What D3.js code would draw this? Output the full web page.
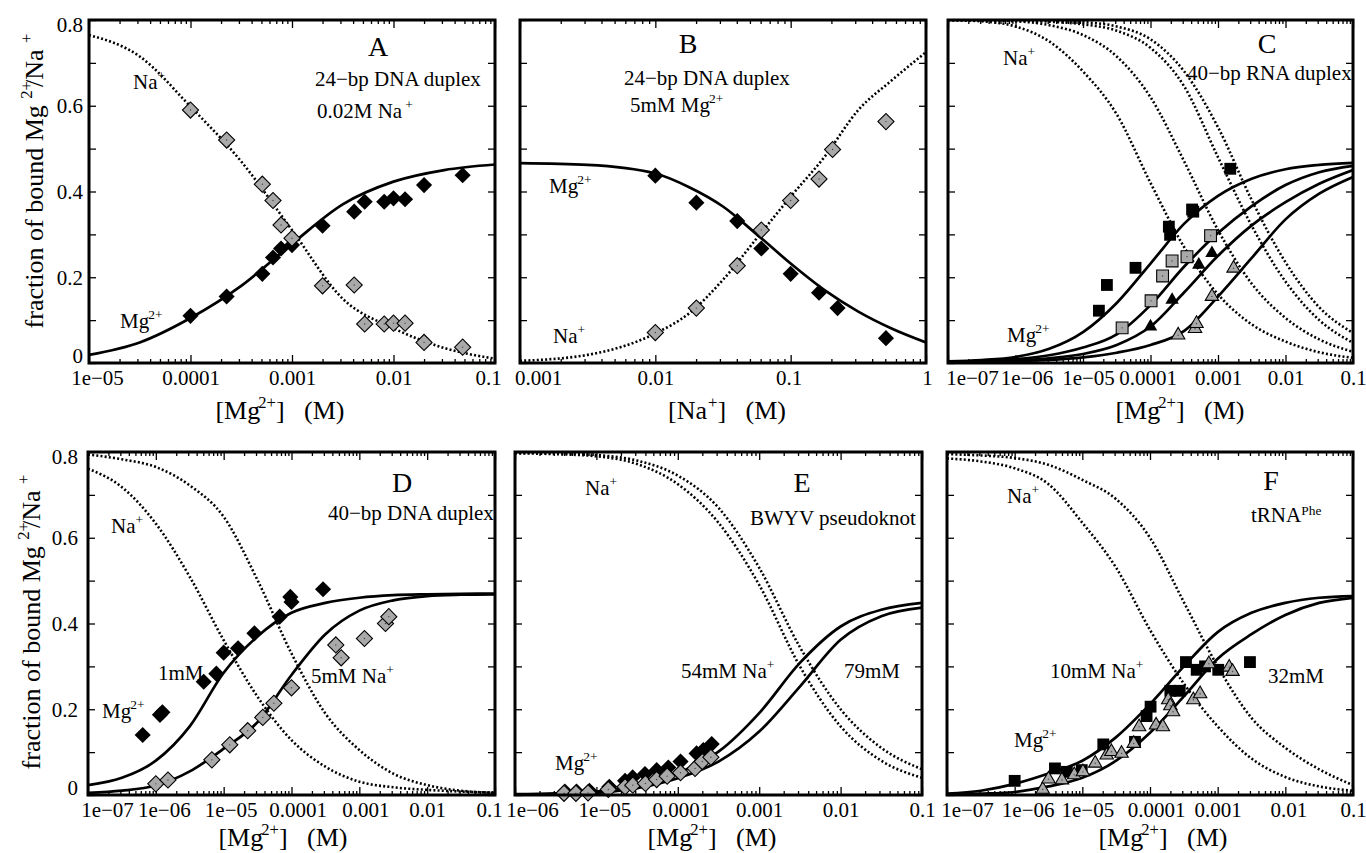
<!DOCTYPE html>
<html>
<head>
<meta charset="utf-8">
<script src="https://cdn.jsdelivr.net/npm/d3@7"></script>
<style>
  body { margin: 0; background: #fff; }
  svg { display: block; font-family: 'Liberation Serif', 'Times New Roman', serif; }
  .tick line { stroke: #000; stroke-width: 1.3; }
  .tick text { fill: #000; }
</style>
</head>
<body>
<script>
// ---- tick labels ----
const xLabelsA = ['1e\u221205', '0.0001', '0.001', '0.01', '0.1'];
const xLabelsB = ['0.001', '0.01', '0.1', '1'];
const xLabels7 = ['1e\u221207', '1e\u221206', '1e\u221205', '0.0001', '0.001', '0.01', '0.1'];
const xLabelsE = ['1e\u221206', '1e\u221205', '0.0001', '0.001', '0.01', '0.1'];
const yTickValues = [0, 0.1, 0.2, 0.3, 0.4, 0.5, 0.6, 0.7, 0.8];
const yTickLabels = ['0', '', '0.2', '', '0.4', '', '0.6', '', '0.8'];

// ---- model curves ----
const gridA = [1e-5, 3.16e-5, 1e-4, 3.16e-4, 1e-3, 3.16e-3, 1e-2, 3.16e-2, 0.1];
const aMgFit = [0.019, 0.048, 0.105, 0.18, 0.278, 0.37, 0.423, 0.45, 0.463];
const aNaFit = [0.765, 0.715, 0.598, 0.47, 0.31, 0.15, 0.081, 0.035, 0.01];

const gridB = [1e-3, 3.16e-3, 1e-2, 1.78e-2, 3.16e-2, 5.62e-2, 0.1, 0.178, 0.316, 0.562, 1];
const bMgFit = [0.466, 0.462, 0.442, 0.41, 0.365, 0.30, 0.232, 0.17, 0.12, 0.08, 0.048];
const bNaFit = [0.005, 0.019, 0.069, 0.116, 0.194, 0.291, 0.388, 0.481, 0.59, 0.66, 0.725];

const grid7 = [1e-7, 3.16e-7, 1e-6, 3.16e-6, 1e-5, 3.16e-5, 1e-4, 3.16e-4, 1e-3, 3.16e-3, 1e-2, 3.16e-2, 0.1];
const cMgFit1 = [0.004, 0.007, 0.014, 0.033, 0.072, 0.14, 0.232, 0.325, 0.39, 0.43, 0.452, 0.462, 0.467];
const cMgFit2 = [0.003, 0.005, 0.009, 0.018, 0.036, 0.067, 0.135, 0.225, 0.303, 0.366, 0.415, 0.445, 0.46];
const cMgFit3 = [0.002, 0.003, 0.006, 0.011, 0.021, 0.042, 0.085, 0.165, 0.25, 0.321, 0.375, 0.418, 0.45];
const cMgFit4 = [0.001, 0.002, 0.004, 0.007, 0.013, 0.024, 0.042, 0.075, 0.155, 0.245, 0.335, 0.395, 0.434];
const cNaFit1 = [0.80, 0.797, 0.785, 0.75, 0.68, 0.58, 0.42, 0.27, 0.16, 0.09, 0.05, 0.025, 0.012];
const cNaFit2 = [0.80, 0.799, 0.797, 0.788, 0.765, 0.715, 0.62, 0.47, 0.31, 0.185, 0.105, 0.055, 0.026];
const cNaFit3 = [0.80, 0.80, 0.799, 0.796, 0.79, 0.775, 0.735, 0.645, 0.48, 0.32, 0.19, 0.10, 0.047];
const cNaFit4 = [0.80, 0.80, 0.80, 0.798, 0.795, 0.785, 0.755, 0.68, 0.55, 0.38, 0.235, 0.13, 0.07];

const dMgFit1 = [0.023, 0.04, 0.08, 0.16, 0.285, 0.37, 0.425, 0.448, 0.46, 0.466, 0.468, 0.469, 0.47];
const dMgFit2 = [0.005, 0.01, 0.022, 0.055, 0.108, 0.17, 0.28, 0.375, 0.43, 0.454, 0.464, 0.467, 0.468];
const dNaFit1 = [0.761, 0.718, 0.633, 0.509, 0.361, 0.229, 0.128, 0.066, 0.031, 0.018, 0.012, 0.008, 0.005];
const dNaFit2 = [0.794, 0.783, 0.765, 0.722, 0.649, 0.501, 0.33, 0.19, 0.105, 0.05, 0.023, 0.01, 0.005];

const gridE = [1e-6, 3.16e-6, 1e-5, 3.16e-5, 1e-4, 3.16e-4, 1e-3, 3.16e-3, 1e-2, 3.16e-2, 0.1];
const eMgFit1 = [0.002, 0.004, 0.008, 0.023, 0.051, 0.101, 0.191, 0.308, 0.393, 0.432, 0.448];
const eMgFit2 = [0.001, 0.002, 0.005, 0.016, 0.039, 0.078, 0.148, 0.253, 0.362, 0.417, 0.437];
const eNaFit1 = [0.797, 0.795, 0.79, 0.772, 0.725, 0.635, 0.49, 0.30, 0.16, 0.08, 0.04];
const eNaFit2 = [0.798, 0.797, 0.793, 0.78, 0.745, 0.67, 0.53, 0.345, 0.20, 0.11, 0.06];

const fMgFit1 = [0.003, 0.01, 0.026, 0.05, 0.08, 0.135, 0.212, 0.30, 0.38, 0.425, 0.448, 0.46, 0.464];
const fMgFit2 = [0.001, 0.003, 0.007, 0.02, 0.04, 0.08, 0.145, 0.23, 0.318, 0.375, 0.42, 0.448, 0.46];
const fNaFit1 = [0.785, 0.778, 0.762, 0.725, 0.635, 0.53, 0.385, 0.26, 0.16, 0.085, 0.042, 0.02, 0.01];
const fNaFit2 = [0.795, 0.792, 0.786, 0.77, 0.735, 0.69, 0.60, 0.45, 0.30, 0.18, 0.11, 0.06, 0.023];

// ---- measured points ----
const aConc = [1e-4, 2.27e-4, 5.1e-4, 6.5e-4, 7.8e-4, 1e-3, 2e-3, 4.1e-3, 5.2e-3, 8.1e-3, 1e-2, 1.3e-2, 2e-2, 4.8e-2];
const aMgObs = [0.11, 0.155, 0.208, 0.246, 0.267, 0.275, 0.32, 0.353, 0.376, 0.376, 0.384, 0.382, 0.415, 0.438];
const aNaObs = [0.59, 0.52, 0.417, 0.379, 0.322, 0.291, 0.18, 0.182, 0.091, 0.091, 0.093, 0.093, 0.048, 0.037];

const bMgConc = [0.01, 0.0201, 0.0403, 0.0607, 0.1, 0.162, 0.222, 0.506];
const bMgObs = [0.437, 0.374, 0.331, 0.267, 0.208, 0.164, 0.128, 0.058];
const bNaConc = [0.01, 0.0201, 0.0403, 0.0607, 0.1, 0.162, 0.204, 0.506];
const bNaObs = [0.071, 0.128, 0.227, 0.31, 0.379, 0.429, 0.498, 0.563];

const cSqBlackX = [1.72e-5, 2.26e-5, 6.0e-5, 1.87e-4, 1.95e-4, 4.13e-4, 4.3e-4, 1.52e-3];
const cSqBlackY = [0.122, 0.182, 0.222, 0.318, 0.299, 0.358, 0.353, 0.453];
const cSqGrayX = [3.8e-5, 1.02e-4, 1.51e-4, 2.09e-4, 3.47e-4, 7.76e-4];
const cSqGrayY = [0.082, 0.145, 0.203, 0.238, 0.248, 0.297];
const cTriBlackX = [1.0e-4, 2.09e-4, 5.19e-4, 8.13e-4];
const cTriBlackY = [0.085, 0.147, 0.229, 0.256];
const cTriGrayX = [2.57e-4, 4.57e-4, 4.8e-4, 8.13e-4, 1.7e-3];
const cTriGrayY = [0.065, 0.08, 0.092, 0.155, 0.221];

const d1mMX = [6.4e-7, 1.15e-6, 1.25e-6, 5.08e-6, 7.8e-6, 1e-5, 1.63e-5, 2.84e-5, 6.7e-5, 9.6e-5, 1e-4, 2.92e-4];
const d1mMY = [0.14, 0.187, 0.193, 0.264, 0.283, 0.332, 0.342, 0.377, 0.416, 0.462, 0.45, 0.48];
const d5mMX = [1e-6, 1.51e-6, 6.7e-6, 1.23e-5, 2.26e-5, 3.77e-5, 5.5e-5, 1e-4, 4.5e-4, 5.4e-4, 1.19e-3, 2.43e-3, 2.72e-3];
const d5mMY = [0.026, 0.035, 0.082, 0.117, 0.15, 0.181, 0.214, 0.25, 0.35, 0.32, 0.365, 0.40, 0.416];

const e54X = [4.1e-6, 5.7e-6, 8.2e-6, 1.44e-5, 2.25e-5, 2.79e-5, 3.95e-5, 5.5e-5, 7.65e-5, 1.08e-4, 1.7e-4, 2.06e-4, 2.61e-4];
const e54Y = [0.008, 0.008, 0.01, 0.019, 0.033, 0.041, 0.049, 0.058, 0.064, 0.078, 0.097, 0.105, 0.119];
const e79X = [4.0e-6, 5.6e-6, 7.9e-6, 1.4e-5, 2.25e-5, 2.8e-5, 4.0e-5, 5.5e-5, 7.4e-5, 1.08e-4, 1.63e-4, 2.0e-4, 2.55e-4];
const e79Y = [0.004, 0.004, 0.005, 0.013, 0.019, 0.023, 0.027, 0.036, 0.044, 0.052, 0.062, 0.078, 0.088];

const f10X = [1e-6, 3.94e-6, 5.9e-6, 9.8e-6, 2.04e-5, 6.0e-5, 8.9e-5, 1.02e-4, 2.0e-4, 2.75e-4, 3.4e-4, 4.9e-4, 6.5e-4, 1.02e-3, 3.0e-3];
const f10Y = [0.033, 0.062, 0.054, 0.058, 0.118, 0.124, 0.184, 0.206, 0.243, 0.243, 0.31, 0.292, 0.30, 0.292, 0.31];
const f32X = [2.6e-6, 3.16e-6, 5.0e-6, 7.6e-6, 1.02e-5, 1.55e-5, 2.29e-5, 2.69e-5, 3.8e-5, 5.75e-5, 6.9e-5, 1.23e-4, 1.55e-4, 1.86e-4, 2.0e-4, 2.19e-4, 4.37e-4, 5.5e-4, 7.4e-4, 1.48e-3, 1.66e-3];
const f32Y = [0.013, 0.037, 0.035, 0.047, 0.054, 0.074, 0.093, 0.101, 0.097, 0.12, 0.159, 0.163, 0.159, 0.222, 0.208, 0.194, 0.222, 0.236, 0.306, 0.298, 0.288];

const GRAY = '#a9a9a9';

const svg = d3.select('body').append('svg')
  .attr('width', 1366)
  .attr('height', 853);

// text with superscripts: parts = [[string, 'sup'?, dx?, raise?], ...]
function rich(parent, x, y, parts, size, anchor) {
  const t = parent.append('text')
    .attr('x', x).attr('y', y)
    .attr('font-size', size)
    .attr('text-anchor', anchor || 'start')
    .style('white-space', 'pre');
  let cur = 0;
  parts.forEach(p => {
    const sup = p[1] === 'sup';
    const target = sup ? -(p[3] || 0.42 * size) : 0;
    const ts = t.append('tspan').text(p[0]).attr('dy', target - cur);
    if (p[2]) ts.attr('dx', p[2]);
    if (sup) ts.attr('font-size', size * 0.64);
    cur = target;
  });
  return t;
}

const mg2 = [['Mg'], ['2+', 'sup', -1]];
const naP = [['Na'], ['+', 'sup']];
const mgTitle = [['[Mg'], ['2+', 'sup', -2], [']   (M)']];

const panels = [
  {
    left: 89, right: 495, top: 20, bottom: 363, domain: [1e-5, 0.1], labels: xLabelsA,
    labelDx: [8, 0, 0, 0, -7], yLabels: true, yPad: 6,
    curves: [[gridA, aMgFit, false], [gridA, aNaFit, true]],
    sets: [[aConc, aMgObs, 'diamond', '#000'], [aConc, aNaObs, 'diamond', GRAY]],
    letter: ['A', 378, 56],
    notes: [[[['24\u2212bp DNA duplex']], 315, 86], [[['0.02M Na'], ['+', 'sup', 3]], 317, 118],
            [naP, 133, 89], [mg2, 120, 328]],
    title: [mgTitle, 280, 419]
  },
  {
    left: 520, right: 926, top: 20, bottom: 363, domain: [1e-3, 1], labels: xLabelsB,
    labelDx: [18, 0, -2, 1], yLabels: false,
    curves: [[gridB, bMgFit, false], [gridB, bNaFit, true]],
    sets: [[bMgConc, bMgObs, 'diamond', '#000'], [bNaConc, bNaObs, 'diamond', GRAY]],
    letter: ['B', 688, 53],
    notes: [[[['24\u2212bp DNA duplex']], 624, 85], [[['5mM '], ['Mg'], ['2+', 'sup', -1]], 630, 112],
            [mg2, 549, 193], [naP, 553, 343]],
    title: [[['[Na'], ['+', 'sup', 1], [']   (M)']], 727, 419]
  },
  {
    left: 948, right: 1353, top: 20, bottom: 363, domain: [1e-7, 0.1], labels: xLabels7,
    labelDx: [24, 11, 5, -3, 0, 0, 0], yLabels: false,
    curves: [[grid7, cMgFit1, false], [grid7, cMgFit2, false], [grid7, cMgFit3, false], [grid7, cMgFit4, false],
             [grid7, cNaFit1, true], [grid7, cNaFit2, true], [grid7, cNaFit3, true], [grid7, cNaFit4, true]],
    sets: [[cSqBlackX, cSqBlackY, 'square', '#000'], [cSqGrayX, cSqGrayY, 'square', GRAY],
           [cTriBlackX, cTriBlackY, 'triangle', '#000'], [cTriGrayX, cTriGrayY, 'triangle', GRAY]],
    letter: ['C', 1267, 53],
    notes: [[[['40\u2212bp RNA duplex']], 1187, 80], [naP, 1003, 65], [mg2, 1007, 342]],
    title: [mgTitle, 1180, 419]
  },
  {
    left: 88, right: 495, top: 452, bottom: 795, domain: [1e-7, 0.1], labels: xLabels7,
    labelDx: [19, 8, 7, 6, 6, 0, -6], yLabels: true, yPad: 10,
    curves: [[grid7, dMgFit1, false], [grid7, dMgFit2, false], [grid7, dNaFit1, true], [grid7, dNaFit2, true]],
    sets: [[d1mMX, d1mMY, 'diamond', '#000'], [d5mMX, d5mMY, 'diamond', GRAY]],
    letter: ['D', 402, 492],
    notes: [[[['40\u2212bp DNA duplex']], 328, 520], [naP, 111, 533], [[['1mM']], 158, 680],
            [[['5mM Na'], ['+', 'sup']], 311, 683], [mg2, 102, 718]],
    title: [mgTitle, 283, 846]
  },
  {
    left: 515, right: 922, top: 452, bottom: 795, domain: [1e-6, 0.1], labels: xLabelsE,
    labelDx: [17, 8, 3, 0, 0, 0], yLabels: false,
    curves: [[gridE, eMgFit1, false], [gridE, eMgFit2, false], [gridE, eNaFit1, true], [gridE, eNaFit2, true]],
    sets: [[e54X, e54Y, 'diamond', '#000'], [e79X, e79Y, 'diamond', GRAY]],
    letter: ['E', 802, 492],
    notes: [[[['BWYV pseudoknot']], 750, 525], [naP, 585, 495], [[['54mM Na'], ['+', 'sup']], 681, 678],
            [[['79mM']], 844, 678], [mg2, 555, 770]],
    title: [mgTitle, 712, 846]
  },
  {
    left: 947, right: 1353, top: 452, bottom: 795, domain: [1e-7, 0.1], labels: xLabels7,
    labelDx: [20, 13, 5, 6, 0, 3, 0], yLabels: false,
    curves: [[grid7, fMgFit1, false], [grid7, fMgFit2, false], [grid7, fNaFit1, true], [grid7, fNaFit2, true]],
    sets: [[f10X, f10Y, 'square', '#000'], [f32X, f32Y, 'triangle', GRAY]],
    letter: ['F', 1271, 490],
    notes: [[[['tRNA'], ['Phe', 'sup', 0, 7]], 1251, 522], [naP, 1007, 503], [[['10mM Na'], ['+', 'sup']], 1050, 678],
            [[['32mM']], 1268, 683], [mg2, 1014, 747]],
    title: [mgTitle, 1163, 846]
  }
];

const symbols = {
  diamond: d3.symbol().type(d3.symbolSquare).size(130),
  square: d3.symbol().type(d3.symbolSquare).size(140),
  triangle: d3.symbol().type(d3.symbolTriangle).size(78)
};

panels.forEach((p, pi) => {
  const w = p.right - p.left;
  const h = p.bottom - p.top;
  const g = svg.append('g').attr('transform', `translate(${p.left},${p.top})`);

  const x = d3.scaleLog().domain(p.domain).range([0, w]);
  const y = d3.scaleLinear().domain([0, 0.8]).range([h, 0]);

  const lo = Math.round(Math.log10(p.domain[0]));
  const hi = Math.round(Math.log10(p.domain[1]));
  const major = d3.range(lo, hi + 1).map(e => Math.pow(10, e));
  const minor = [];
  d3.range(lo, hi).forEach(e => { for (let k = 2; k <= 9; k++) minor.push(k * Math.pow(10, e)); });

  // ticks, all pointing inward
  const bottom = g.append('g').attr('transform', `translate(0,${h})`)
    .call(d3.axisBottom(x).tickValues(major).tickSize(-8).tickPadding(7).tickFormat((d, i) => p.labels[i]));
  g.append('g').attr('transform', `translate(0,${h})`)
    .call(d3.axisBottom(x).tickValues(minor).tickSize(-4).tickFormat(''));
  g.append('g').call(d3.axisTop(x).tickValues(major).tickSize(-8).tickFormat(''));
  g.append('g').call(d3.axisTop(x).tickValues(minor).tickSize(-4).tickFormat(''));
  const leftAx = g.append('g')
    .call(d3.axisLeft(y).tickValues(yTickValues).tickSize(-7).tickPadding(p.yPad || 6)
      .tickFormat((d, i) => p.yLabels ? yTickLabels[i] : ''));
  g.append('g').attr('transform', `translate(${w},0)`)
    .call(d3.axisRight(y).tickValues(yTickValues).tickSize(-7).tickFormat(''));

  g.selectAll('.domain').remove();
  g.selectAll('.tick text').attr('font-size', 21);
  g.selectAll('g').attr('font-family', null).attr('font-size', null);

  bottom.selectAll('.tick text').attr('x', (d, i) => p.labelDx[i]);

  leftAx.selectAll('.tick text')
    .attr('x', -(p.yPad || 6))
    .attr('dy', d => d === 0.8 ? '0.55em' : d === 0 ? '-0.02em' : '0.34em');

  // curves
  svg.append('clipPath').attr('id', 'clip' + pi)
    .append('rect').attr('width', w).attr('height', h);
  const line = d3.line()
    .x(d => x(d[0]))
    .y(d => y(d[1]))
    .curve(d3.curveMonotoneX);
  const cg = g.append('g').attr('clip-path', `url(#clip${pi})`);
  p.curves.forEach(([xs, ys, dotted]) => {
    cg.append('path')
      .attr('d', line(xs.map((v, i) => [v, ys[i]])))
      .attr('fill', 'none')
      .attr('stroke', '#000')
      .attr('stroke-width', dotted ? 2.6 : 2.7)
      .attr('stroke-dasharray', dotted ? '2,2.2' : null);
  });

  // points
  p.sets.forEach(([xs, ys, shape, fill]) => {
    const pts = g.append('g').selectAll('g')
      .data(xs.map((v, i) => [v, ys[i]]))
      .enter().append('g')
      .attr('transform', d => `translate(${x(d[0])},${y(d[1])})`);
    pts.append('path')
      .attr('d', symbols[shape]())
      .attr('transform', shape === 'diamond' ? 'rotate(45)' : null)
      .attr('fill', fill)
      .attr('stroke', fill === '#000' ? 'none' : '#000')
      .attr('stroke-width', 1.1);
    if (fill !== '#000') {
      pts.append('circle').attr('r', 0.7).attr('fill', '#444');
    }
  });

  // frame
  g.append('rect')
    .attr('width', w).attr('height', h)
    .attr('fill', 'none')
    .attr('stroke', '#000')
    .attr('stroke-width', 3);

  // annotations
  svg.append('text')
    .attr('x', p.letter[1]).attr('y', p.letter[2])
    .attr('text-anchor', 'middle')
    .attr('font-size', 28)
    .text(p.letter[0]);
  p.notes.forEach(([parts, nx, ny]) => rich(svg, nx, ny, parts, 21));
  rich(svg, p.title[1], p.title[2], p.title[0], 26, 'middle');
});

// y axis titles
[[43, 181], [40, 622]].forEach(([tx, ty]) => {
  const yg = svg.append('g').attr('transform', `translate(${tx},${ty}) rotate(-90)`);
  rich(yg, 0, 0, [['fraction of bound Mg '], ['2+', 'sup'], ['/Na ', null, -6], ['+', 'sup']], 26, 'middle');
});
</script>
</body>
</html>
